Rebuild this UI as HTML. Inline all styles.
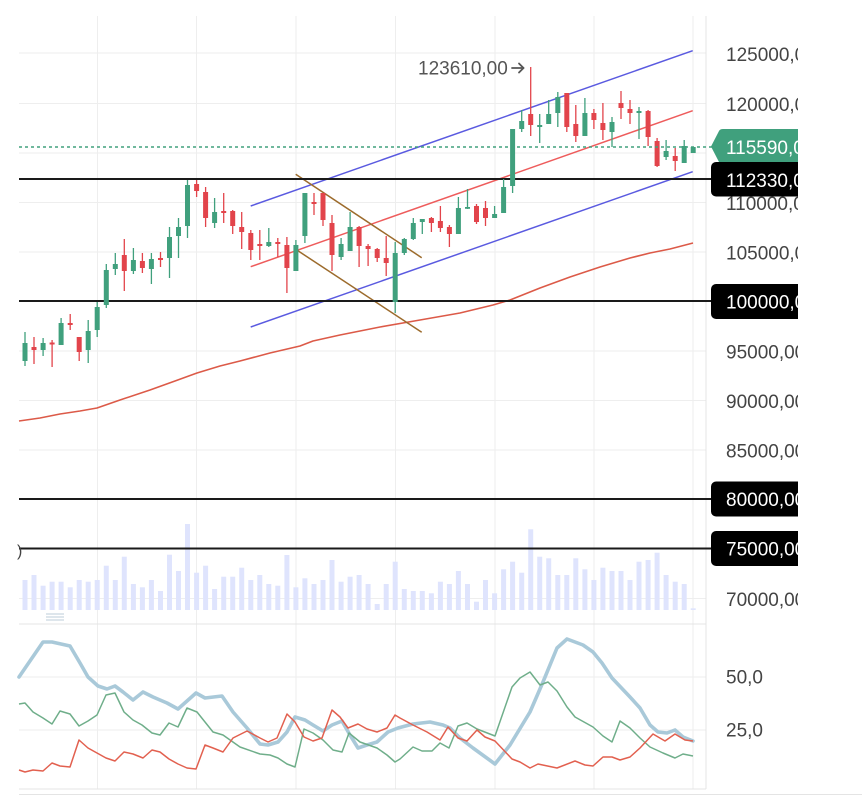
<!DOCTYPE html>
<html><head><meta charset="utf-8"><style>
html,body{margin:0;padding:0;background:#fff;}
svg{display:block;font-family:"Liberation Sans",Arial,sans-serif;}
</style></head><body>
<svg width="862" height="798" viewBox="0 0 862 798" xmlns="http://www.w3.org/2000/svg">
<rect width="862" height="798" fill="#fff"/>
<!-- grid main -->
<g stroke="#eeeeee" stroke-width="1">
<line x1="97.5" y1="16" x2="97.5" y2="789"/>
<line x1="196.5" y1="16" x2="196.5" y2="789"/>
<line x1="296" y1="16" x2="296" y2="789"/>
<line x1="395.5" y1="16" x2="395.5" y2="789"/>
<line x1="495" y1="16" x2="495" y2="789"/>
<line x1="594" y1="16" x2="594" y2="789"/>
<line x1="693" y1="16" x2="693" y2="789"/>
<line x1="19" y1="53" x2="706" y2="53"/>
<line x1="19" y1="103.5" x2="706" y2="103.5"/>
<line x1="19" y1="153" x2="706" y2="153"/>
<line x1="19" y1="202.5" x2="706" y2="202.5"/>
<line x1="19" y1="252" x2="706" y2="252"/>
<line x1="19" y1="351" x2="706" y2="351"/>
<line x1="19" y1="400.5" x2="706" y2="400.5"/>
<line x1="19" y1="450" x2="706" y2="450"/>
<line x1="19" y1="598.5" x2="706" y2="598.5"/>
<line x1="19" y1="677" x2="706" y2="677"/>
<line x1="19" y1="730" x2="706" y2="730"/>
</g>
<g stroke="#e4e4e4" stroke-width="1">
<line x1="706" y1="16" x2="706" y2="789"/>
<line x1="19" y1="624" x2="706" y2="624"/>
<line x1="19" y1="789" x2="706" y2="789"/>
<line x1="19" y1="794.5" x2="862" y2="794.5"/>
</g>
<!-- handle -->
<g stroke="#bccdd8" stroke-width="1">
<line x1="46" y1="614" x2="64" y2="614"/>
<line x1="46" y1="617" x2="64" y2="617"/>
<line x1="46" y1="620" x2="64" y2="620"/>
</g>
<!-- volume -->
<g fill="#dfe4fd">
<rect x="22.5" y="580" width="5" height="30"/><rect x="31.5" y="575" width="5" height="35"/><rect x="40.6" y="585.7" width="5" height="24.3"/><rect x="49.6" y="581.7" width="5" height="28.3"/><rect x="58.6" y="581.7" width="5" height="28.3"/><rect x="67.7" y="587.3" width="5" height="22.7"/><rect x="76.7" y="580" width="5" height="30"/><rect x="85.7" y="581.7" width="5" height="28.3"/><rect x="94.7" y="580" width="5" height="30"/><rect x="103.8" y="565.7" width="5" height="44.3"/><rect x="112.8" y="580" width="5" height="30"/><rect x="121.8" y="556.7" width="5" height="53.3"/><rect x="130.9" y="584" width="5" height="26"/><rect x="139.9" y="587.3" width="5" height="22.7"/><rect x="148.9" y="580" width="5" height="30"/><rect x="158" y="591" width="5" height="19"/><rect x="167" y="554.7" width="5" height="55.3"/><rect x="176" y="571" width="5" height="39"/><rect x="185" y="524" width="5" height="86"/><rect x="194.1" y="572.7" width="5" height="37.3"/><rect x="203.1" y="565.7" width="5" height="44.3"/><rect x="212.1" y="589" width="5" height="21"/><rect x="221.2" y="576.7" width="5" height="33.3"/><rect x="230.2" y="576.7" width="5" height="33.3"/><rect x="239.2" y="567.7" width="5" height="42.3"/><rect x="248.3" y="580" width="5" height="30"/><rect x="257.3" y="575" width="5" height="35"/><rect x="266.3" y="584" width="5" height="26"/><rect x="275.3" y="585.7" width="5" height="24.3"/><rect x="284.4" y="555" width="5" height="55"/><rect x="293.4" y="587.3" width="5" height="22.7"/><rect x="302.4" y="578.3" width="5" height="31.7"/><rect x="311.5" y="584" width="5" height="26"/><rect x="320.5" y="580" width="5" height="30"/><rect x="329.5" y="560" width="5" height="50"/><rect x="338.6" y="581.7" width="5" height="28.3"/><rect x="347.6" y="576.7" width="5" height="33.3"/><rect x="356.6" y="575" width="5" height="35"/><rect x="365.6" y="584" width="5" height="26"/><rect x="374.7" y="604" width="5" height="6"/><rect x="383.7" y="584" width="5" height="26"/><rect x="392.7" y="561.7" width="5" height="48.3"/><rect x="401.8" y="589" width="5" height="21"/><rect x="410.8" y="591" width="5" height="19"/><rect x="419.8" y="591" width="5" height="19"/><rect x="428.9" y="593.3" width="5" height="16.7"/><rect x="437.9" y="581.7" width="5" height="28.3"/><rect x="446.9" y="584" width="5" height="26"/><rect x="455.9" y="571" width="5" height="39"/><rect x="465" y="584" width="5" height="26"/><rect x="474" y="601.7" width="5" height="8.3"/><rect x="483" y="580" width="5" height="30"/><rect x="492.1" y="593.3" width="5" height="16.7"/><rect x="501.1" y="569.3" width="5" height="40.7"/><rect x="510.1" y="561.7" width="5" height="48.3"/><rect x="519.2" y="572.7" width="5" height="37.3"/><rect x="528.2" y="529.3" width="5" height="80.7"/><rect x="537.2" y="556.7" width="5" height="53.3"/><rect x="546.2" y="558.3" width="5" height="51.7"/><rect x="555.3" y="575" width="5" height="35"/><rect x="564.3" y="575" width="5" height="35"/><rect x="573.3" y="558.3" width="5" height="51.7"/><rect x="582.4" y="569.3" width="5" height="40.7"/><rect x="591.4" y="580" width="5" height="30"/><rect x="600.4" y="567.7" width="5" height="42.3"/><rect x="609.5" y="571" width="5" height="39"/><rect x="618.5" y="571" width="5" height="39"/><rect x="627.5" y="580" width="5" height="30"/><rect x="636.5" y="561.7" width="5" height="48.3"/><rect x="645.6" y="560" width="5" height="50"/><rect x="654.6" y="552.7" width="5" height="57.3"/><rect x="663.6" y="575" width="5" height="35"/><rect x="672.7" y="581.7" width="5" height="28.3"/><rect x="681.7" y="584" width="5" height="26"/><rect x="690.7" y="608.3" width="5" height="1.7"/>
</g>
<!-- MA -->
<polyline fill="none" stroke="#dc5a48" stroke-width="1.6" stroke-linejoin="round" points="19,421 40,418 60,414 80,411 97,408 120,400 150,390 175,381 197,373 220,366 240,361 270,353 300,346 313,341 340,335 380,327 420,320 460,313 493,305 510,300 540,288 570,277 600,267 630,258 650,253 670,249 693,243"/>
<!-- channels -->
<g fill="none" stroke-width="1.5">
<line x1="250.7" y1="206" x2="692.7" y2="50.7" stroke="#5a5ae0"/>
<line x1="250.7" y1="327" x2="692.7" y2="171.7" stroke="#5a5ae0"/>
<line x1="250.7" y1="266.7" x2="692.7" y2="110.7" stroke="#ee5c5c"/>
<line x1="295.7" y1="174.3" x2="421.7" y2="257.7" stroke="#9c6b2c"/>
<line x1="295.7" y1="249.3" x2="421.7" y2="332.3" stroke="#9c6b2c"/>
</g>
<!-- black levels -->
<g stroke="#1a1a1a" stroke-width="2">
<line x1="19" y1="179" x2="711" y2="179"/>
<line x1="19" y1="301" x2="711" y2="301"/>
<line x1="19" y1="499" x2="711" y2="499"/>
<line x1="19" y1="548.5" x2="711" y2="548.5"/>
</g>
<!-- green candles -->
<g stroke="#40a07d" stroke-width="1.3" fill="#40a07d">
<line x1="25" y1="332" x2="25" y2="366"/><rect x="22.5" y="343" width="5" height="18" stroke="none"/>
<line x1="43.1" y1="338" x2="43.1" y2="356"/><rect x="40.6" y="343" width="5" height="7" stroke="none"/>
<line x1="61.1" y1="318" x2="61.1" y2="345"/><rect x="58.6" y="323" width="5" height="22" stroke="none"/>
<line x1="88.2" y1="320" x2="88.2" y2="363"/><rect x="85.7" y="331" width="5" height="19" stroke="none"/>
<line x1="97.2" y1="302" x2="97.2" y2="337"/><rect x="94.7" y="307" width="5" height="23" stroke="none"/>
<line x1="106.3" y1="264" x2="106.3" y2="308"/><rect x="103.8" y="270" width="5" height="35" stroke="none"/>
<line x1="115.3" y1="253" x2="115.3" y2="275"/><rect x="112.8" y="264" width="5" height="5" stroke="none"/>
<line x1="133.4" y1="248" x2="133.4" y2="274"/><rect x="130.9" y="260" width="5" height="11" stroke="none"/>
<line x1="151.4" y1="253" x2="151.4" y2="284"/><rect x="148.9" y="259" width="5" height="10" stroke="none"/>
<line x1="169.5" y1="227" x2="169.5" y2="278"/><rect x="167" y="237" width="5" height="21" stroke="none"/>
<line x1="178.5" y1="218" x2="178.5" y2="258"/><rect x="176" y="227" width="5" height="9" stroke="none"/>
<line x1="187.5" y1="180" x2="187.5" y2="238"/><rect x="185" y="185" width="5" height="41" stroke="none"/>
<line x1="214.6" y1="198" x2="214.6" y2="228"/><rect x="212.1" y="212" width="5" height="11" stroke="none"/>
<line x1="268.8" y1="228" x2="268.8" y2="247"/><rect x="266.3" y="242" width="5" height="4" stroke="none"/>
<line x1="295.9" y1="240" x2="295.9" y2="271"/><rect x="293.4" y="245" width="5" height="26" stroke="none"/>
<line x1="304.9" y1="193" x2="304.9" y2="243"/><rect x="302.4" y="193" width="5" height="43" stroke="none"/>
<line x1="341.1" y1="238" x2="341.1" y2="260"/><rect x="338.6" y="244" width="5" height="13" stroke="none"/>
<line x1="350.1" y1="212" x2="350.1" y2="251"/><rect x="347.6" y="227" width="5" height="24" stroke="none"/>
<line x1="395.2" y1="242" x2="395.2" y2="313"/><rect x="392.7" y="253" width="5" height="49" stroke="none"/>
<line x1="404.3" y1="238" x2="404.3" y2="255"/><rect x="401.8" y="239" width="5" height="14" stroke="none"/>
<line x1="413.3" y1="218" x2="413.3" y2="240"/><rect x="410.8" y="223" width="5" height="16" stroke="none"/>
<line x1="422.3" y1="219" x2="422.3" y2="234"/><rect x="419.8" y="219" width="5" height="3" stroke="none"/>
<line x1="458.4" y1="197" x2="458.4" y2="234"/><rect x="455.9" y="208" width="5" height="26" stroke="none"/>
<line x1="467.5" y1="189" x2="467.5" y2="209"/><rect x="465" y="207" width="5" height="1.8" stroke="none"/>
<line x1="494.6" y1="206" x2="494.6" y2="218"/><rect x="492.1" y="214" width="5" height="4" stroke="none"/>
<line x1="503.6" y1="179" x2="503.6" y2="213"/><rect x="501.1" y="187" width="5" height="26" stroke="none"/>
<line x1="512.6" y1="129" x2="512.6" y2="193"/><rect x="510.1" y="129" width="5" height="57" stroke="none"/>
<line x1="521.7" y1="110" x2="521.7" y2="132"/><rect x="519.2" y="121" width="5" height="8" stroke="none"/>
<line x1="539.7" y1="114" x2="539.7" y2="143"/><rect x="537.2" y="125" width="5" height="2" stroke="none"/>
<line x1="548.7" y1="100" x2="548.7" y2="124"/><rect x="546.2" y="114" width="5" height="10" stroke="none"/>
<line x1="557.8" y1="92" x2="557.8" y2="127"/><rect x="555.3" y="97" width="5" height="16" stroke="none"/>
<line x1="584.9" y1="98" x2="584.9" y2="136"/><rect x="582.4" y="113" width="5" height="23" stroke="none"/>
<line x1="612" y1="117" x2="612" y2="147"/><rect x="609.5" y="122" width="5" height="10" stroke="none"/>
<line x1="639" y1="107" x2="639" y2="139"/><rect x="636.5" y="111" width="5" height="2" stroke="none"/>
<line x1="666.1" y1="140" x2="666.1" y2="160"/><rect x="663.6" y="151" width="5" height="6" stroke="none"/>
<line x1="684.2" y1="140" x2="684.2" y2="163"/><rect x="681.7" y="146" width="5" height="17" stroke="none"/>
<line x1="693.2" y1="147" x2="693.2" y2="153"/><rect x="690.7" y="147" width="5" height="6" stroke="none"/>
</g>
<!-- red candles -->
<g stroke="#e2444b" stroke-width="1.3" fill="#e2444b">
<line x1="34" y1="337" x2="34" y2="364"/><rect x="31.5" y="347" width="5" height="3" stroke="none"/>
<line x1="52.1" y1="340" x2="52.1" y2="367"/><rect x="49.6" y="342.5" width="5" height="2" stroke="none"/>
<line x1="70.2" y1="314" x2="70.2" y2="330"/><rect x="67.7" y="323" width="5" height="2" stroke="none"/>
<line x1="79.2" y1="337" x2="79.2" y2="361"/><rect x="76.7" y="337" width="5" height="15" stroke="none"/>
<line x1="124.3" y1="239" x2="124.3" y2="291"/><rect x="121.8" y="255" width="5" height="16" stroke="none"/>
<line x1="142.4" y1="253" x2="142.4" y2="273"/><rect x="139.9" y="261" width="5" height="7" stroke="none"/>
<line x1="160.5" y1="252" x2="160.5" y2="267"/><rect x="158" y="258" width="5" height="2" stroke="none"/>
<line x1="196.6" y1="180" x2="196.6" y2="197"/><rect x="194.1" y="184" width="5" height="7" stroke="none"/>
<line x1="205.6" y1="187" x2="205.6" y2="227"/><rect x="203.1" y="192" width="5" height="26" stroke="none"/>
<line x1="223.7" y1="193" x2="223.7" y2="223"/><rect x="221.2" y="211" width="5" height="2" stroke="none"/>
<line x1="232.7" y1="210" x2="232.7" y2="234"/><rect x="230.2" y="211" width="5" height="15" stroke="none"/>
<line x1="241.7" y1="212" x2="241.7" y2="249"/><rect x="239.2" y="227" width="5" height="5" stroke="none"/>
<line x1="250.8" y1="230" x2="250.8" y2="260"/><rect x="248.3" y="233" width="5" height="17" stroke="none"/>
<line x1="259.8" y1="230" x2="259.8" y2="260"/><rect x="257.3" y="244" width="5" height="2" stroke="none"/>
<line x1="277.8" y1="238" x2="277.8" y2="257"/><rect x="275.3" y="242" width="5" height="2" stroke="none"/>
<line x1="286.9" y1="237" x2="286.9" y2="293"/><rect x="284.4" y="245" width="5" height="23" stroke="none"/>
<line x1="314" y1="193" x2="314" y2="215"/><rect x="311.5" y="202" width="5" height="2" stroke="none"/>
<line x1="323" y1="193" x2="323" y2="226"/><rect x="320.5" y="193" width="5" height="27" stroke="none"/>
<line x1="332" y1="215" x2="332" y2="271"/><rect x="329.5" y="223" width="5" height="32" stroke="none"/>
<line x1="359.1" y1="226" x2="359.1" y2="267"/><rect x="356.6" y="227" width="5" height="19" stroke="none"/>
<line x1="368.1" y1="244" x2="368.1" y2="266"/><rect x="365.6" y="246" width="5" height="3" stroke="none"/>
<line x1="377.2" y1="248" x2="377.2" y2="262"/><rect x="374.7" y="249" width="5" height="9" stroke="none"/>
<line x1="386.2" y1="236" x2="386.2" y2="276"/><rect x="383.7" y="258" width="5" height="5" stroke="none"/>
<line x1="431.4" y1="217" x2="431.4" y2="232"/><rect x="428.9" y="218" width="5" height="5" stroke="none"/>
<line x1="440.4" y1="206" x2="440.4" y2="232"/><rect x="437.9" y="221" width="5" height="7" stroke="none"/>
<line x1="449.4" y1="225" x2="449.4" y2="247"/><rect x="446.9" y="227" width="5" height="7" stroke="none"/>
<line x1="476.5" y1="204" x2="476.5" y2="224"/><rect x="474" y="206" width="5" height="16" stroke="none"/>
<line x1="485.5" y1="201" x2="485.5" y2="226"/><rect x="483" y="208" width="5" height="10" stroke="none"/>
<line x1="530.7" y1="67" x2="530.7" y2="136"/><rect x="528.2" y="114" width="5" height="11" stroke="none"/>
<line x1="566.8" y1="93" x2="566.8" y2="132"/><rect x="564.3" y="93" width="5" height="34" stroke="none"/>
<line x1="575.8" y1="105" x2="575.8" y2="142"/><rect x="573.3" y="124" width="5" height="12" stroke="none"/>
<line x1="593.9" y1="109" x2="593.9" y2="129"/><rect x="591.4" y="113" width="5" height="7" stroke="none"/>
<line x1="602.9" y1="103" x2="602.9" y2="140"/><rect x="600.4" y="123" width="5" height="7" stroke="none"/>
<line x1="621" y1="91" x2="621" y2="119"/><rect x="618.5" y="103" width="5" height="5" stroke="none"/>
<line x1="630" y1="100" x2="630" y2="124"/><rect x="627.5" y="109" width="5" height="4" stroke="none"/>
<line x1="648.1" y1="110" x2="648.1" y2="146"/><rect x="645.6" y="111" width="5" height="26" stroke="none"/>
<line x1="657.1" y1="138" x2="657.1" y2="167"/><rect x="654.6" y="141" width="5" height="25" stroke="none"/>
<line x1="675.2" y1="148" x2="675.2" y2="171"/><rect x="672.7" y="156" width="5" height="5" stroke="none"/>
</g>
<!-- last price dotted -->
<line x1="19" y1="147" x2="712" y2="147" stroke="#40a07d" stroke-width="1.5" stroke-dasharray="3,3"/>
<!-- annotation -->
<text x="418" y="74.5" font-size="19" fill="#555">123610,00</text>
<g stroke="#555" stroke-width="1.8" fill="none" stroke-linecap="round" stroke-linejoin="round">
<line x1="512" y1="68" x2="523.5" y2="68"/>
<polyline points="519,63.5 523.5,68 519,72.5"/>
</g>
<!-- left clipped label -->
<text x="17" y="556" font-size="16" fill="#444">)</text>
<!-- indicator lines -->
<polyline fill="none" stroke="#a9c9d9" stroke-width="3.6" stroke-linejoin="round" stroke-linecap="round" points="19,677 43,642 52,642 70,646 80,663 88,677 98,686 107,689 115,686 123,692 133,700 143,692 153,697 167,703 178,709 187,701 196,693 205,698 222,696 233,712 247,728 260,744 268,745 278,742 287,732 295,717 305,720 313,725 323,731 332,725 342,721 350,735 358,748 367,745 377,742 388,732 398,728 413,724 430,722 443,725 450,728 460,738 473,748 495,764 510,745 530,712 543,682 557,648 567,639 583,645 593,652 602,663 612,678 630,697 640,708 650,725 658,732 667,733 675,730 683,737 693,741"/>
<polyline fill="none" stroke="#6fae8a" stroke-width="1.5" stroke-linejoin="round" points="19,704 25,703 33,712 43,718 52,724 60,711 70,714 79,726 88,721 97,715 106,695 115,693 124,712 133,720 142,725 152,733 160,735 169,723 178,727 187,708 197,712 213,732 223,735 240,747 260,754 270,755 278,758 287,764 295,767 304,729 313,733 323,740 333,750 342,752 349,733 360,742 377,748 387,755 395,762 400,759 413,747 422,751 432,751 440,743 449,748 458,726 467,723 477,729 495,736 512,687 520,678 530,672 540,685 548,682 557,691 567,707 575,717 593,727 603,736 612,742 620,721 630,728 640,738 650,747 663,753 675,758 683,754 693,756"/>
<polyline fill="none" stroke="#e2604f" stroke-width="1.5" stroke-linejoin="round" points="19,770 25,772 33,770 43,771 52,763 60,766 70,767 79,740 88,748 97,753 106,758 115,761 124,752 133,754 143,758 152,750 160,752 169,759 178,764 187,768 196,769 205,745 213,748 223,752 233,738 247,731 260,738 268,742 277,738 287,714 295,722 304,737 313,741 322,738 332,710 340,717 348,728 358,724 367,729 377,732 387,728 395,715 400,718 413,725 427,732 440,740 448,727 458,738 467,741 477,730 485,737 495,741 512,759 520,762 530,768 538,764 557,768 575,761 585,765 593,766 603,757 612,757 620,760 630,757 640,748 653,734 665,741 675,734 685,740 693,741"/>
<!-- axis labels -->
<g font-size="19" fill="#444">
<text x="726" y="61">125000,00</text>
<text x="726" y="111">120000,00</text>
<text x="726" y="210">110000,00</text>
<text x="726" y="259.5">105000,00</text>
<text x="726" y="358.5">95000,00</text>
<text x="726" y="408">90000,00</text>
<text x="726" y="457.5">85000,00</text>
<text x="726" y="606">70000,00</text>
<text x="726" y="683.5">50,0</text>
<text x="726" y="736.5">25,0</text>
</g>
<!-- price boxes -->
<path d="M711,146.5 L719,131 Q720,129 723,129 L820,129 L820,163.5 L723,163.5 Q720,163.5 719,162 Z" fill="#40a07d"/>
<g fill="#000">
<rect x="711" y="162" width="110" height="34.5" rx="5"/>
<rect x="711" y="284" width="110" height="35" rx="5"/>
<rect x="711" y="481.5" width="110" height="35" rx="5"/>
<rect x="711" y="531" width="110" height="35" rx="5"/>
</g>
<g font-size="19" fill="#fff">
<text x="726" y="154">115590,00</text>
<text x="726" y="187">112330,00</text>
<text x="726" y="308.5">100000,00</text>
<text x="726" y="506">80000,00</text>
<text x="726" y="555.5">75000,00</text>
</g>
<!-- right clip -->
<rect x="798" y="0" width="64" height="794" fill="#fff"/>
</svg>
</body></html>
